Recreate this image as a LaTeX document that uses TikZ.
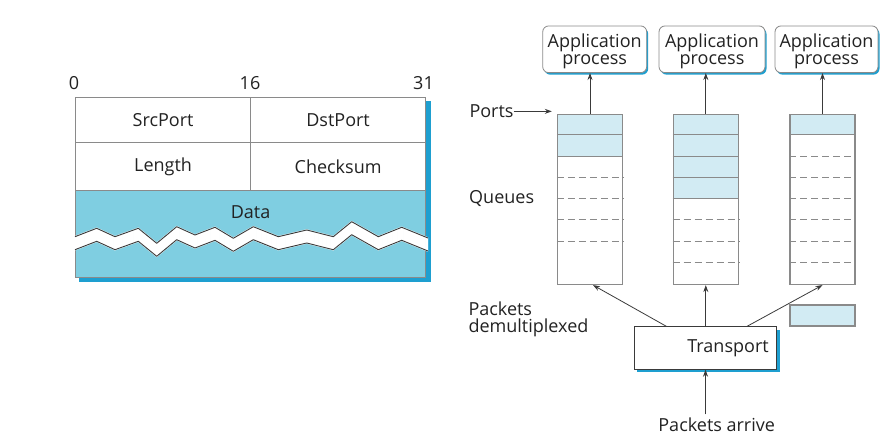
\documentclass[tikz,border=0pt]{standalone}
\usepackage{fontspec}
\setmainfont{Open Sans}
\usetikzlibrary{calc}
\usetikzlibrary{arrows.meta}
\usetikzlibrary{shadows}
\usetikzlibrary{backgrounds}

\definecolor{linegray}{HTML}{8A8A8A}
\definecolor{datablue}{HTML}{7FCEE1}
\definecolor{slotblue}{HTML}{D2EBF3}
\definecolor{shadowblue}{HTML}{1E9FD0}
\definecolor{arrowgray}{HTML}{3A3A3A}
\definecolor{inkgray}{HTML}{222222}

\tikzset{
  cellbox/.style={draw=linegray, line width=1.2pt, fill=white, minimum width=175pt, inner sep=0pt},
  queuebox/.style={draw=linegray, line width=1.4pt, minimum width=65pt, minimum height=170pt, inner sep=0pt},
  appbox/.style={draw=linegray, line width=0.8pt, rounded corners=6pt, fill=white, minimum height=46.7pt,
    align=center, inner sep=0pt, text depth=0pt, font=\fontsize{18}{16.5}\selectfont,
    drop shadow={shadow xshift=1.5pt, shadow yshift=-2pt, fill=shadowblue, opacity=1}},
  transbox/.style={draw=arrowgray, line width=0.8pt, fill=white, text width=126.4pt, inner xsep=8pt,
    minimum height=42.6pt, align=right, drop shadow={shadow xshift=3pt, shadow yshift=-3pt, fill=shadowblue, opacity=1}},
  pktbox/.style={draw=linegray, line width=1.2pt, fill=slotblue, minimum width=65pt, minimum height=21pt, inner sep=0pt},
  lbl/.style={anchor=base west, inner sep=0pt, align=left, font=\fontsize{18}{17}\selectfont},
  arr/.style={-{Stealth[length=7pt,width=5pt]}, line width=0.8pt, draw=arrowgray},
  slotline/.style={draw=linegray, line width=1pt},
  slotdash/.style={draw=linegray, line width=1pt, dash pattern=on 7pt off 4pt},
  zigline/.style={draw=arrowgray, line width=0.9pt, line join=round},
}

% zigzag cut through the data field
\newcommand{\udpzig}{(75,236.7) -- (96.7,228.3) -- (115,236.7) -- (138.3,228.3) -- (156.7,243.3)
  -- (176.7,226.7) -- (195,235) -- (215,227.3) -- (233.3,238.3) -- (253.3,226.7) -- (278.3,236.7)
  -- (306.7,230) -- (333.3,236.7) -- (351.7,221.7) -- (378.3,236.7) -- (401.7,227.3) -- (428,238)}

\begin{document}
\begin{tikzpicture}[x=1pt, y=-1pt, every node/.style={font=\fontsize{18}{16}\selectfont, text=inkgray}]
\useasboundingbox (0,0) rectangle (880,435);

% UDP header
\node[anchor=base] (b0) at (74,89.3) {0};
\node[anchor=base] (b16) at (250,89.3) {16};
\node[anchor=base] (b31) at (423.5,89.3) {31};

\node[cellbox, minimum height=45pt, anchor=north west] (src) at (75,96.7) {SrcPort};
\node[cellbox, minimum height=45pt, anchor=north west] (dst) at (250,96.7) {DstPort};
\node[cellbox, minimum height=48.3pt, anchor=north west] (len) at (75,141.7) {Length};
\node[cellbox, minimum height=48.3pt, anchor=north west] (chk) at (250,141.7) {Checksum};
\node[cellbox, fill=datablue, minimum width=350pt, minimum height=86.7pt, anchor=north west] (data) at (75,190) {};
\node (datatxt) at ($(data.north)+(0,21.7)$) {Data};

\begin{scope}[on background layer]
  \fill[shadowblue] ($(src.north west)+(4,4)$) rectangle ($(data.south east)+(4.5,4.5)$);
\end{scope}

\foreach \dy in {0,1,...,13}
  \draw[white, line width=1.5pt, yshift=-\dy pt] \udpzig;
\draw[zigline] \udpzig;
\draw[zigline, yshift=-13pt] \udpzig;

% demultiplexing
\node[appbox, minimum width=104pt] (app1) at (594.7,49.3) {Application\\process};
\node[appbox, minimum width=106pt] (app2) at (712,49.3) {Application\\process};
\node[appbox, minimum width=103pt] (app3) at (826.5,49.3) {Application\\process};

\node[queuebox] (q1) at (590,199.4) {};
\node[queuebox] (q2) at (705.8,199.4) {};
\node[queuebox] (q3) at (822.5,199.4) {};

\foreach \q/\nb/\nd in {q1/2/6, q2/4/7, q3/1/7} {
  \pgfmathtruncatemacro{\nf}{\nb+1}
  \begin{scope}[on background layer]
    \fill[slotblue] (\q.north west) rectangle ($(\q.north east)+(0,\nb*21.25)$);
  \end{scope}
  \foreach \k in {1,...,\nb}
    \draw[slotline] ($(\q.north west)+(0,\k*21.25)$) -- ($(\q.north east)+(0,\k*21.25)$);
  \foreach \k in {\nf,...,\nd}
    \draw[slotdash] ($(\q.north west)+(0,\k*21.25)$) -- ($(\q.north east)+(0,\k*21.25)$);
}

\draw[arr] (q1.north) -- (q1.north |- app1.south);
\draw[arr] (q2.north) -- (q2.north |- app2.south);
\draw[arr] (q3.north) -- (q3.north |- app3.south);

\node[transbox] (tr) at (705.5,348) {Transport};
\node[pktbox] (pkt) at (822.5,315.5) {};

\coordinate (trl) at ($(tr.north west)+(32.4,0)$);
\coordinate (trr) at ($(tr.north east)+(-30,0)$);
\draw[arr] (trl) -- ($(q1.south)+(3,0)$);
\draw[arr] (q2.south |- tr.north) -- (q2.south);
\draw[arr] (trr) -- (q3.south);

\node[lbl] (ports) at (469.3,117.7) {Ports};
\draw[arr] (ports.east) -- ($(ports.east -| q1.west)+(-5,0)$);
\node[lbl] (queues) at (469,203.3) {Queues};
\node[lbl] (demux) at (468.3,332) {Packets\\demultiplexed};

\node[anchor=base] (arrive) at (716.7,431.7) {Packets arrive};
\draw[arr] (tr.south |- arrive.north) -- (tr.south);
\end{tikzpicture}
\end{document}
